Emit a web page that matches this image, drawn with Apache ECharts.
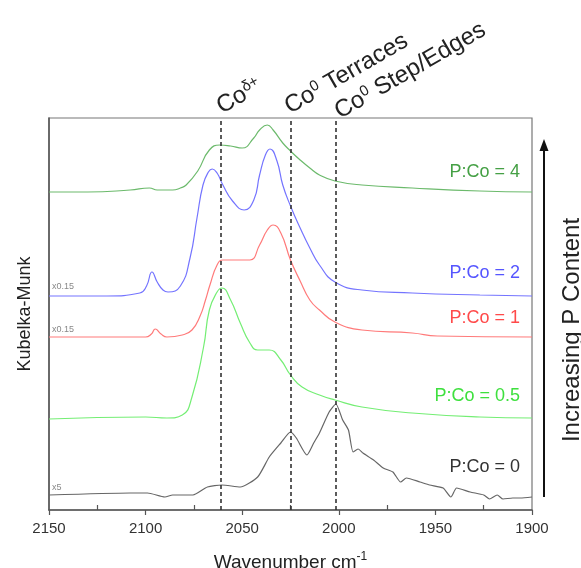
<!DOCTYPE html>
<html><head><meta charset="utf-8">
<script src="https://cdn.jsdelivr.net/npm/echarts@6/dist/echarts.min.js"></script>
<style>html,body{margin:0;padding:0;background:#fff}#c{width:581px;height:568px}</style>
</head><body><div id="c"></div>
<script>
// ---- data (wavenumber in cm-1, Kubelka-Munk in arbitrary offset units) ----
const wnP4 = [2150,2130,2108,2098,2094,2086,2082,2079,2073,2067,2061.5,2056,2050,2044,2041,2037,2034,2029,2025,2020,2015,2010,2002,1988,1962,1927,1900];
const kmP4 = [318,318,320,322,320,320,322,325,339,360,365,364,362,372,380,385,380,367,359,350,342,335,329,325,322,319,318];

const wnP2 = [2150,2120,2103,2099.5,2096.7,2094,2091,2088.4,2082,2077,2073.4,2070.3,2067.5,2065.5,2063,2060,2055,2049,2044,2041,2038,2035.6,2032,2029,2025,2020,2015,2010,2002,1988,1962,1927,1900];
const kmP2 = [214,214,217,224,238,228,220,218,224,252,292,325,338,341,337,325,309,300,310,335,355,361,349,325,304,282,262,245,228,220,217,215,214];

const wnP1 = [2150,2100,2097,2095,2092,2089,2081,2076,2071.8,2069,2066.7,2063,2060,2053,2046,2041,2037,2034,2030,2025,2020,2015,2010,2002,1988,1962,1949,1900];
const kmP1 = [173,173,176,181,176,173,175,180,194,210,225,245,250,250,250,265,280,285,277,250,229,210,200,188,180,177,174,173];

const wnP05 = [2150,2100,2089,2081,2076,2070,2067,2063,2060.5,2056,2051,2046,2042,2036,2030,2025,2019,2010,2002,1988,1962,1927,1900];
const kmP05 = [91,93,92,95,113,163,200,218,222,210,187,167,160,160,150,135,123,115,110,103,97,93,92];

const wnP0 = [2150,2108,2099,2090,2086,2075.5,2068,2060.5,2051,2042,2036,2030,2025,2022,2016.5,2013,2010,2005,2001.5,1998,1995,1992.6,1990,1987.5,1982,1977,1972,1968,1965,1958,1953,1946,1942,1939,1932,1925,1922,1918,1915,1910,1906,1900];
const kmP0 = [15,17,17,13,15,15,23,25,23,33,53,67,78,72,55,67,77,98,106,90,80,58,61,57,50,42,38,28,32,28,25,22,13,22,18,15,11,15,11,12,12,13];

const seriesNames = ['P:Co = 4','P:Co = 2','P:Co = 1','P:Co = 0.5','P:Co = 0'];
const seriesColors = ['#6cba6c','#7474ff','#ff7a7a','#74ee74','#666666'];
const labelColors = ['#45a045','#5555ff','#ff4a4a','#3ee03e','#333333'];
const scaleNotes = ['', 'x0.15', 'x0.15', '', 'x5'];
const refLines = [2061, 2025, 2001.5];
const refNames = ['Co{s|δ+}', 'Co{s|0} Terraces', 'Co{s|0} Step/Edges'];
const xMin = 1900, xMax = 2150, xStep = 50;

const zip = (a, b) => a.map((v, i) => [v, b[i]]);
const allWn = [wnP4, wnP2, wnP1, wnP05, wnP0];
const allKm = [kmP4, kmP2, kmP1, kmP05, kmP0];

const chart = echarts.init(document.getElementById('c'), null, {renderer: 'canvas'});
const FONT = '"Liberation Sans", Arial, sans-serif';

const series = allWn.map((wn, i) => ({
  name: seriesNames[i],
  type: 'line',
  data: zip(wn, allKm[i]),
  showSymbol: false,
  smooth: i === 4 ? 0.2 : 0.5,
  lineStyle: {color: seriesColors[i], width: 1.2},
  itemStyle: {color: seriesColors[i]},
  z: 3
}));
series[0].markLine = {
  silent: true, symbol: 'none', animation: false,
  label: {show: false},
  lineStyle: {type: [4, 3], color: '#333', width: 1.6},
  data: refLines.map(v => ({xAxis: v}))
};

// Text annotations
const graphics = [];
const labelY = [172, 273, 318, 396, 467];
seriesNames.forEach((n, i) => {
  graphics.push({type: 'text', x: 520, y: labelY[i], z: 10,
    style: {text: n, fill: labelColors[i], font: '18px ' + FONT, align: 'right', verticalAlign: 'middle'}});
});
const noteY = [0, 287, 330, 0, 488];
scaleNotes.forEach((n, i) => {
  if (!n) return;
  graphics.push({type: 'text', x: 52, y: noteY[i], z: 10,
    style: {text: n, fill: '#888', font: '9px ' + FONT, align: 'left', verticalAlign: 'middle'}});
});
const refAnchor = [[225, 119], [293, 119], [343, 124]];
refNames.forEach((t, i) => {
  graphics.push({type: 'text', x: refAnchor[i][0], y: refAnchor[i][1], rotation: Math.PI / 6, z: 10,
    style: {text: t, fill: '#222', font: '24px ' + FONT, align: 'left', verticalAlign: 'bottom',
      rich: {s: {fontSize: 15, verticalAlign: 'top', fill: '#222', fontFamily: FONT, padding: [0, 0, 10, 0]}}}});
});
// arrow
graphics.push({type: 'line', z: 10, shape: {x1: 544, y1: 497, x2: 544, y2: 148}, style: {stroke: '#111', lineWidth: 2}});
graphics.push({type: 'polygon', z: 10, shape: {points: [[544, 139], [539.5, 151], [548.5, 151]]}, style: {fill: '#111'}});
graphics.push({type: 'text', x: 572, y: 330, rotation: Math.PI / 2, z: 10,
  style: {text: 'Increasing P Content', fill: '#222', font: '24px ' + FONT, align: 'center', verticalAlign: 'middle'}});

chart.setOption({
  animation: false,
  backgroundColor: '#fff',
  grid: {left: 49, right: 49, top: 118, bottom: 58, containLabel: false, outerBoundsMode: 'none',
    show: true, borderColor: '#777', borderWidth: 1.2, backgroundColor: 'transparent'},
  xAxis: [{
    type: 'value', min: xMin, max: xMax, interval: xStep, inverse: true, position: 'bottom',
    name: 'Wavenumber cm{s|-1}', nameLocation: 'middle', nameGap: 41,
    nameTextStyle: {fontSize: 19, color: '#222', fontFamily: FONT,
      rich: {s: {fontSize: 12, verticalAlign: 'top', padding: [0, 0, 12, 0], color: '#222', fontFamily: FONT}}},
    axisLine: {show: true, lineStyle: {color: '#555', width: 1.5}},
    axisTick: {show: true, inside: false, length: 5, lineStyle: {color: '#555', width: 1.2}},
    axisLabel: {fontSize: 15, color: '#333', margin: 11, fontFamily: FONT, formatter: v => String(v)},
    splitLine: {show: false}
  }, {
    type: 'value', min: xMin, max: xMax, interval: xStep, inverse: true, position: 'bottom',
    axisLine: {show: false}, axisLabel: {show: false},
    axisTick: {show: false, inside: true},
    minorTick: {show: true, splitNumber: 2, length: 5, lineStyle: {color: '#555', width: 1.2}},
    splitLine: {show: false}
  }],
  yAxis: {
    type: 'value', min: 0, max: 392,
    name: 'Kubelka-Munk', nameLocation: 'middle', nameGap: 15, nameRotate: 90,
    nameTextStyle: {fontSize: 18, color: '#222', fontFamily: FONT},
    axisLine: {show: true, lineStyle: {color: '#555', width: 1.5}},
    axisTick: {show: false}, axisLabel: {show: false}, splitLine: {show: false}
  },
  series: series,
  graphic: graphics
});
</script>
</body></html>
